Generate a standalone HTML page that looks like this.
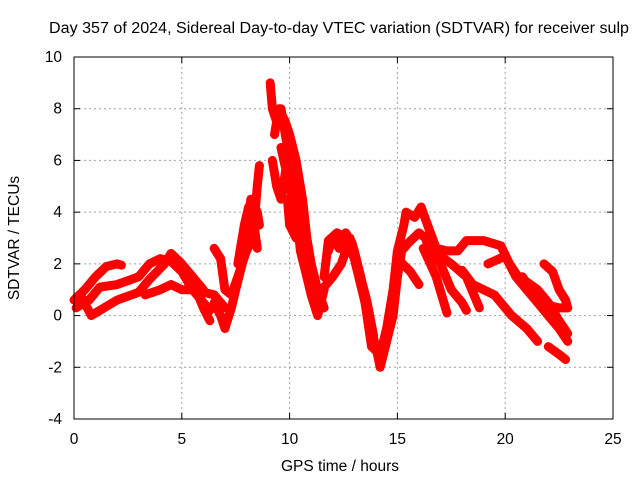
<!DOCTYPE html>
<html><head><meta charset="utf-8"><style>
body{margin:0;background:#fff}
svg{display:block;font-family:"Liberation Sans",sans-serif}
</style></head><body>
<svg id="chart" width="640" height="480">
<text x="339" y="33" text-anchor="middle" font-size="15.5" textLength="580" lengthAdjust="spacingAndGlyphs">Day 357 of 2024, Sidereal Day-to-day VTEC variation (SDTVAR) for receiver sulp</text>
<text x="340" y="471" text-anchor="middle" font-size="15.5">GPS time / hours</text>
<text transform="translate(19,238) rotate(-90)" text-anchor="middle" font-size="15.5">SDTVAR / TECUs</text>
<g id="grid"></g><g id="ticks"></g><g id="data"></g>
<rect x="74" y="57" width="539" height="362" fill="none" stroke="#000" stroke-width="1"/>
</svg>
<script>
const xTicks=[0,5,10,15,20,25];
const yTicks=[-4,-2,0,2,4,6,8,10];
const arcA=[[0,0.6],[0.5,1.0],[1.0,1.5],[1.5,1.9],[2.0,2.0],[2.2,1.95]];
const arcB=[[0.1,0.3],[0.7,0.6],[1.2,1.1],[2.0,1.2],[3.0,1.5],[3.5,2.0],[4.0,2.2],[4.5,2.1],[5.0,1.7],[5.5,1.0],[6.0,0.5],[6.3,0.2]];
const arcC=[[0.3,0.8],[0.8,0.0],[1.2,0.2],[2.0,0.6],[3.0,0.9],[3.5,1.4],[4.2,2.0],[4.5,2.4],[5.0,2.0],[5.5,1.5],[6.0,1.0]];
const arcD=[[3.3,0.8],[4.0,1.0],[4.5,1.2],[5.0,1.0],[5.5,1.0],[6.0,0.9],[6.5,0.8],[7.0,0.3]];
const arcE=[[4.5,2.4],[5.0,2.0],[5.5,1.3],[6.0,0.3],[6.3,-0.2]];
const arcF=[[6.5,0.5],[6.8,0.0],[7.0,-0.5],[7.3,0.3],[7.5,1.0],[7.8,2.0],[8.0,3.0],[8.2,4.5],[8.5,4.0],[8.6,3.5]];
const arcG=[[6.5,2.6],[6.8,2.2],[7.0,1.0],[7.3,0.8],[7.6,1.5],[8.0,2.5],[8.3,3.0],[8.5,5.0],[8.6,5.8]];
const arcG2=[[7.6,2.0],[7.9,3.5],[8.1,4.2],[8.3,3.8],[8.4,3.2],[8.5,2.6]];
const arcH=[[9.1,9.0],[9.2,8.0],[9.4,7.5],[9.6,8.0],[9.8,7.0],[10.0,6.0],[10.2,5.0],[10.5,3.0],[10.8,1.5],[11.2,0.5],[11.5,1.0],[12.0,1.5],[12.4,2.0],[12.8,3.0],[13.0,2.5],[13.3,1.5],[13.6,0.0],[14.0,-1.2],[14.2,-2.0],[14.5,-1.0],[14.8,0.0],[15.0,1.5],[15.2,2.5],[15.5,2.8],[16.0,3.2],[16.3,3.0],[16.5,2.5],[17.0,2.0],[17.5,1.0],[18.0,0.5],[18.2,0.2]];
const arcH2=[[9.3,7.0],[9.5,8.0],[9.8,7.5],[10.0,7.0],[10.3,6.0],[10.6,4.5],[10.8,3.0],[11.0,2.0]];
const arcH3=[[9.6,6.5],[10.0,5.0],[10.4,3.5],[11.0,2.0],[11.3,1.0],[11.6,0.3]];
const arcI=[[9.2,6.0],[9.4,5.0],[9.6,4.5],[9.8,5.5],[10.0,6.5],[10.2,5.0],[10.5,2.5],[10.8,1.5],[11.0,0.8],[11.3,0.0],[11.6,1.0]];
const arcJ=[[9.9,4.5],[10.0,3.5],[10.3,3.0]];
const arcK=[[11.6,1.5],[11.8,2.9],[12.2,3.2],[12.6,3.0],[13.0,2.2],[13.5,0.5],[13.8,-1.2],[14.2,-1.5],[14.5,-0.5],[14.8,1.0],[15.0,2.5],[15.3,3.5],[15.4,4.0],[15.8,3.8],[16.1,4.2],[16.4,3.5],[16.8,2.6],[17.3,2.5],[17.8,2.5],[18.2,2.9],[19.0,2.9],[19.8,2.7],[20.2,2.0],[20.6,1.5],[21.0,1.3],[21.5,1.0],[22.0,0.5],[22.5,-0.2],[22.9,-0.7]];
const arcK2=[[11.8,2.5],[12.0,3.0],[12.3,2.6],[12.6,3.2],[12.9,2.8],[13.2,1.8],[13.6,0.5],[13.9,-0.8]];
const arcL=[[15.0,2.2],[15.6,1.7],[16.0,1.2]];
const arcM=[[16.2,2.6],[16.8,1.5],[17.3,0.1]];
const arcN=[[17.0,2.3],[17.5,2.0],[18.2,1.5],[18.8,0.3]];
const arcO=[[18.0,1.75],[18.5,1.2],[19.5,0.8],[20.3,0.0],[21.0,-0.5],[21.5,-1.0]];
const arcP=[[19.2,2.0],[20.0,2.3],[20.5,1.5],[21.0,1.0],[21.5,0.5],[22.0,0.0],[22.5,-0.5],[22.9,-1.0]];
const arcQ=[[21.8,2.0],[22.2,1.7],[22.5,1.0],[22.8,0.6],[22.9,0.3]];
const arcR=[[22.0,-1.2],[22.5,-1.5],[22.8,-1.7]];
const arcS=[[20.8,1.5],[21.2,1.0],[22.0,0.4],[22.5,0.3],[22.9,0.3]];
const arcs=[arcA,arcB,arcC,arcD,arcE,arcF,arcG,arcG2,arcH,arcH2,arcH3,arcI,arcJ,arcK,arcK2,arcL,arcM,arcN,arcO,arcP,arcQ,arcR,arcS];
const X0=74,X1=613,Y0=419,Y1=57;
function sx(v){return X0+(v-0)/(25-0)*(X1-X0);}
function sy(v){return Y0-(v+4)/(14)*(Y0-Y1);}
const NS="http://www.w3.org/2000/svg";
function mk(t,a,p){const e=document.createElementNS(NS,t);for(const k in a)e.setAttribute(k,a[k]);p.appendChild(e);return e;}
const grid=document.getElementById('grid'),ticks=document.getElementById('ticks'),data=document.getElementById('data');
xTicks.forEach(v=>{const x=sx(v);
 if(v>0&&v<25){const g=mk('line',{x1:x,x2:x,y1:Y1,y2:Y0,stroke:'#a0a0a0','stroke-dasharray':'2,3'},grid);
 
 }
 mk('line',{x1:x,x2:x,y1:Y0,y2:Y0-6,stroke:'#000'},ticks);
 mk('line',{x1:x,x2:x,y1:Y1,y2:Y1+6,stroke:'#000'},ticks);
 const t=mk('text',{x:x,y:444,'text-anchor':'middle','font-size':'15.5'},ticks);t.textContent=v;
 
 });
yTicks.forEach(v=>{const y=sy(v);
 if(v>-4&&v<10){const g=mk('line',{x1:X0,x2:X1,y1:y,y2:y,stroke:'#a0a0a0','stroke-dasharray':'2,3'},grid);
 
 }
 mk('line',{x1:X0,x2:X0+6,y1:y,y2:y,stroke:'#000'},ticks);
 mk('line',{x1:X1,x2:X1-6,y1:y,y2:y,stroke:'#000'},ticks);
 const t=mk('text',{x:62,y:y+5,'text-anchor':'end','font-size':'15.5'},ticks);t.textContent=v;
 
 });
arcs.forEach(a=>{const p=mk('polyline',{points:a.map(d=>sx(d[0])+','+sy(d[1])).join(' '),fill:'none',stroke:'#ff0000','stroke-width':'9','stroke-linejoin':'round','stroke-linecap':'round'},data);
 
 });
</script>
</body></html>
